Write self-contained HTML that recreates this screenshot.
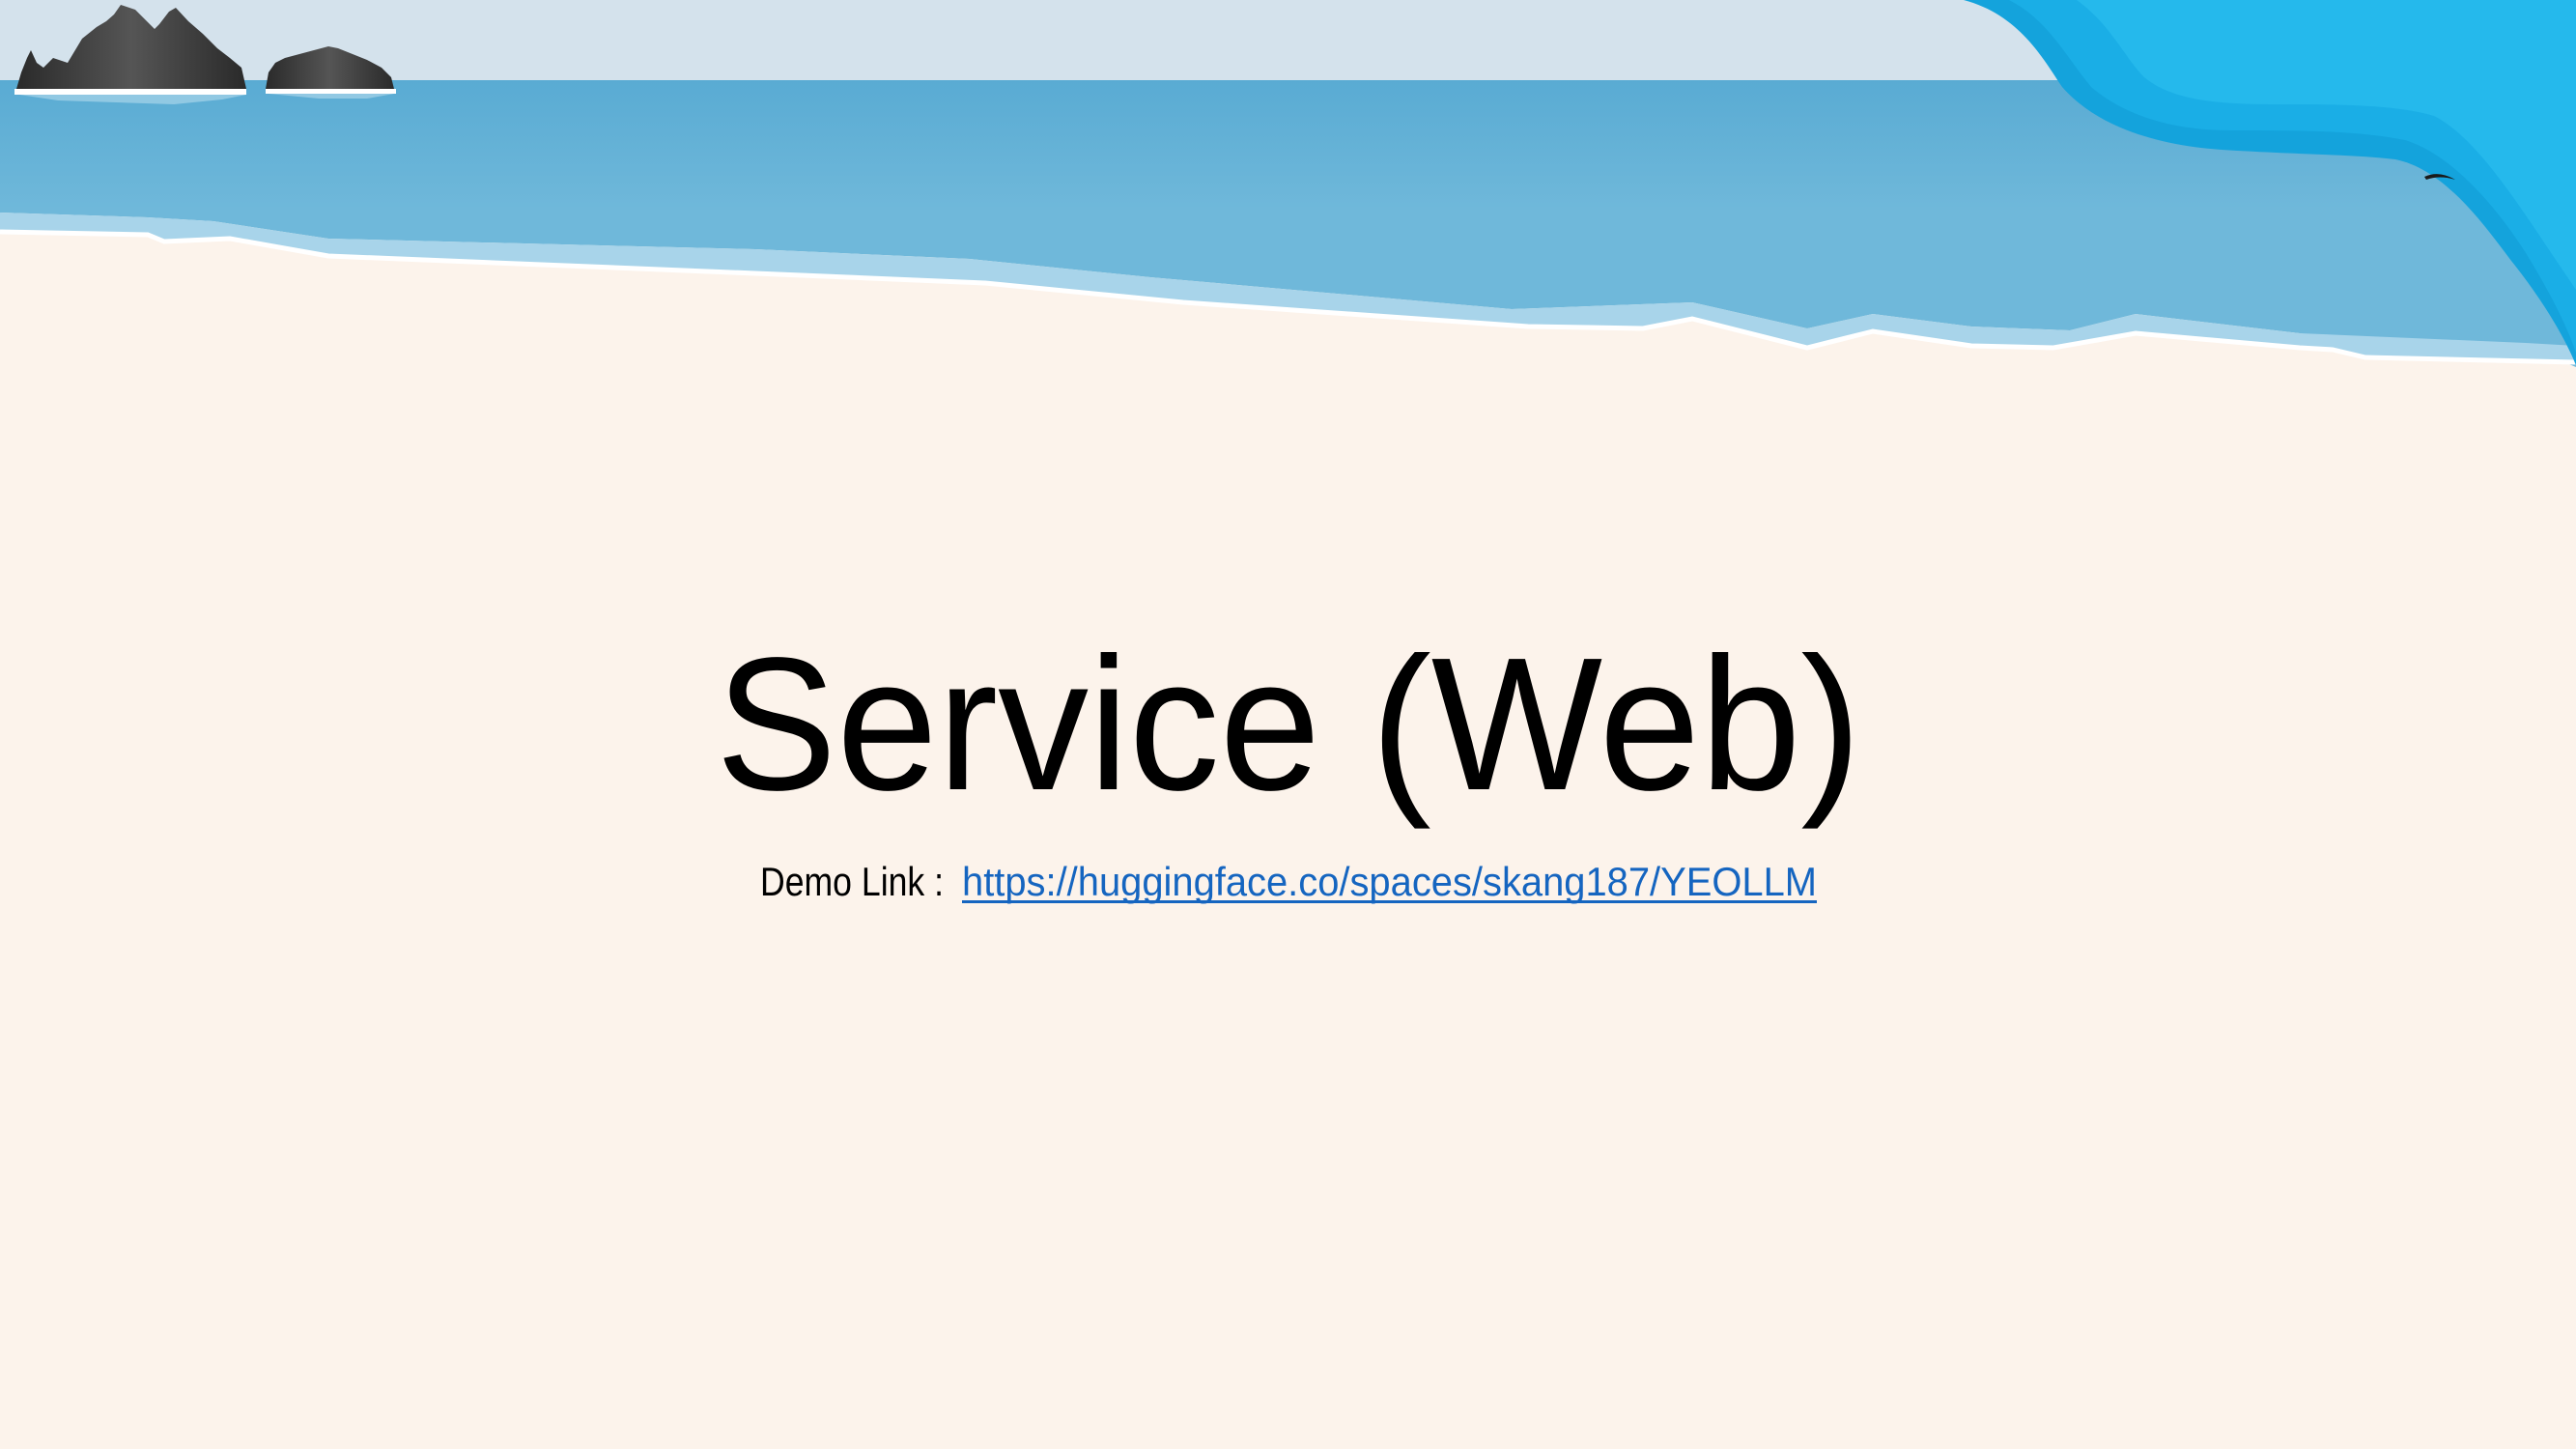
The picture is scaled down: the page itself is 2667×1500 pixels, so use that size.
<!DOCTYPE html>
<html><head><meta charset="utf-8"><style>
html,body{margin:0;padding:0;background:#fcf3eb;}
svg{display:block}
</style></head><body>
<svg width="2667" height="1500" viewBox="0 0 2667 1500" xmlns="http://www.w3.org/2000/svg">
<defs>
<linearGradient id="sea" x1="0" y1="0" x2="0" y2="1">
<stop offset="0" stop-color="#59abd3"/><stop offset="0.45" stop-color="#6fb8da"/><stop offset="1" stop-color="#6fb8da"/>
</linearGradient>
<linearGradient id="rock" x1="0" y1="0" x2="1" y2="0">
<stop offset="0" stop-color="#2a2a2a"/><stop offset="0.5" stop-color="#555"/><stop offset="1" stop-color="#2a2a2a"/>
</linearGradient>
</defs>
<rect width="2667" height="1500" fill="#fcf3eb"/>
<rect width="2667" height="84" fill="#d4e2ec"/>
<!-- sea -->
<path d="M0,83 H2667 V380 L2615,358 2449,355 2381,345 2211,325 2143,342 2041,338 1939,325 1871,340 1752,313 1565,320 1191,287 1004,268 782,258 340,247 221,229 153,225 0,220 Z" fill="url(#sea)"/>
<!-- light band -->
<path d="M0,220 L153,225 221,229 340,247 782,258 1004,268 1191,287 1565,320 1752,313 1871,340 1939,325 2041,338 2143,342 2211,325 2381,345 2615,355 2667,358 V376 L2449,370 2415,362 2381,360 2211,345 2126,360 2041,358 1939,343 1871,360 1752,330 1701,340 1582,338 1225,313 1020,293 782,283 340,265 238,247 170,250 153,243 0,240 Z" fill="#a8d4ea"/>
<!-- white line -->
<path d="M0,240 L153,243 170,250 238,247 340,265 782,283 1020,293 1225,313 1582,338 1701,340 1752,330 1871,360 1939,343 2041,358 2126,360 2211,345 2381,360 2415,362 2449,370 2667,375" fill="none" stroke="#ffffff" stroke-width="5"/>
<!-- right wave layers -->
<path d="M2033,0 C2090,15 2115,60 2135,90 C2170,130 2230,150 2300,155 C2380,160 2440,160 2480,165 C2530,175 2570,230 2600,270 C2640,320 2660,360 2667,378 V0 Z" fill="#14a3dc"/>
<path d="M2080,0 C2120,20 2140,60 2165,90 C2200,120 2250,135 2310,135 C2380,135 2440,135 2490,145 C2540,160 2590,220 2620,270 C2650,320 2662,350 2667,365 V0 Z" fill="#1aaee6"/>
<path d="M2150,0 C2185,25 2200,60 2220,80 C2250,105 2300,108 2360,108 C2420,108 2480,108 2520,120 C2560,140 2600,200 2640,260 L2667,300 V0 Z" fill="#25b9ec"/>
<!-- bird -->
<path d="M2510,183 Q2525,176 2542,186 Q2526,181 2512,186 Z" fill="#1a1a1a"/>
<!-- rocks -->
<path d="M17,92 L22,75 28,60 32,52 38,65 45,70 55,60 70,65 85,40 100,28 110,22 118,15 125,5 140,10 160,30 165,25 175,12 182,8 195,22 210,35 225,50 238,60 250,70 255,92 Z" fill="url(#rock)"/>
<path d="M275,92 L278,75 285,65 295,60 310,56 325,52 340,48 350,50 365,56 380,62 395,70 405,80 408,92 Z" fill="url(#rock)"/>
<path d="M15,92 H255 V98 H15 Z M275,92 H410 V97 H275 Z" fill="#ffffff"/>
<path d="M20,98 H255 L230,103 180,108 120,106 60,104 Z M278,97 H408 L380,102 330,102 Z" fill="#a8d4ea" opacity="0.7"/>
<!-- text -->
<text x="741" y="817" font-family="Liberation Sans, DejaVu Sans, sans-serif" font-size="196" fill="#000" textLength="1186" lengthAdjust="spacingAndGlyphs">Service (Web)</text>
<text x="787" y="927" font-family="Liberation Sans, DejaVu Sans, sans-serif" font-size="42" fill="#000" textLength="190" lengthAdjust="spacingAndGlyphs">Demo Link :</text>
<text x="996" y="927" font-family="Liberation Sans, DejaVu Sans, sans-serif" font-size="42" fill="#1565c0" textLength="885" lengthAdjust="spacingAndGlyphs">https://huggingface.co/spaces/skang187/YEOLLM</text>
<rect x="996" y="932" width="885" height="3" fill="#1565c0"/>
</svg>
</body></html>
